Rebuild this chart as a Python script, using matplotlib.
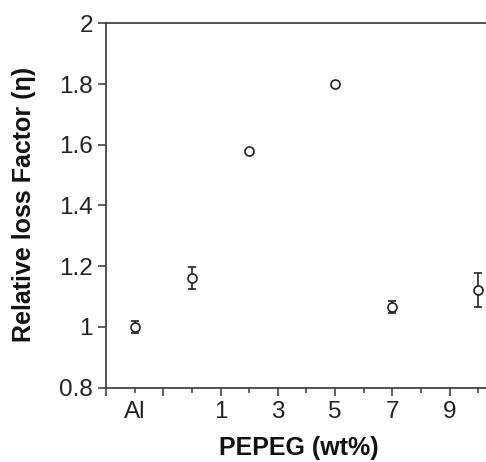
import matplotlib
matplotlib.use("Agg")
import matplotlib.pyplot as plt

plt.rcParams['font.family'] = ['Liberation Sans', 'DejaVu Sans']

# data
x_vals = [-2, 0, 2, 5, 7, 10]          # Al reference at -2, then PEPEG wt%
eta = [1.00, 1.162, 1.578, 1.80, 1.066, 1.122]
eta_err = [0.02, 0.037, 0.0, 0.0, 0.02, 0.056]

major_ticks = [-3, -1, 1, 3, 5, 7, 9]
major_labels = ['', '', '1', '3', '5', '7', '9']
minor_ticks = [-2, 0, 2, 4, 6, 8, 10]
minor_labels = ['Al', '', '', '', '', '', '']
y_ticks = [0.8, 1.0, 1.2, 1.4, 1.6, 1.8, 2.0]
y_labels = ['0.8', '1', '1.2', '1.4', '1.6', '1.8', '2']

fig = plt.figure(figsize=(4.86, 4.62), dpi=100)
ax = fig.add_axes([0.218, 0.1608, 0.782, 0.7888])

ax.errorbar(x_vals, eta, yerr=eta_err, fmt='o', mfc='white', mec='#222222',
            ms=6.5, mew=1.2, ecolor='#222222', elinewidth=1.2, capsize=3,
            capthick=1.2, zorder=3)

ax.set_xlim(-3, 10.27)
ax.set_ylim(0.8, 2.0)

ax.set_xticks(major_ticks)
ax.set_xticklabels(major_labels)
ax.set_xticks(minor_ticks, minor=True)
ax.set_xticklabels(minor_labels, minor=True)
ax.set_yticks(y_ticks)
ax.set_yticklabels(y_labels)

ax.tick_params(axis='x', which='major', direction='out', length=5.8, width=1.1,
               pad=3.9, labelsize=17.5, colors='#333333', labelcolor='#222222')
ax.tick_params(axis='x', which='minor', direction='out', length=3.6, width=1.1,
               pad=6.0, labelsize=17.5, colors='#333333', labelcolor='#222222')
ax.tick_params(axis='y', direction='out', length=5.5, width=1.1, pad=4,
               labelsize=17.5, colors='#333333', labelcolor='#222222')

for s in ['left', 'bottom', 'top']:
    ax.spines[s].set_linewidth(1.3)
    ax.spines[s].set_color('#444444')
ax.spines['right'].set_visible(False)

fig.text(299 / 486, 1 - 455 / 462, 'PEPEG (wt%)', fontsize=18, fontweight='bold',
         ha='center', va='baseline', color='#111111')
fig.text(24 / 486, 1 - 204 / 462, 'Relative loss Factor (\u03b7)', fontsize=18,
         fontweight='bold', rotation=90, ha='center', va='center', color='#111111')

fig.savefig('out.png', dpi=100)
